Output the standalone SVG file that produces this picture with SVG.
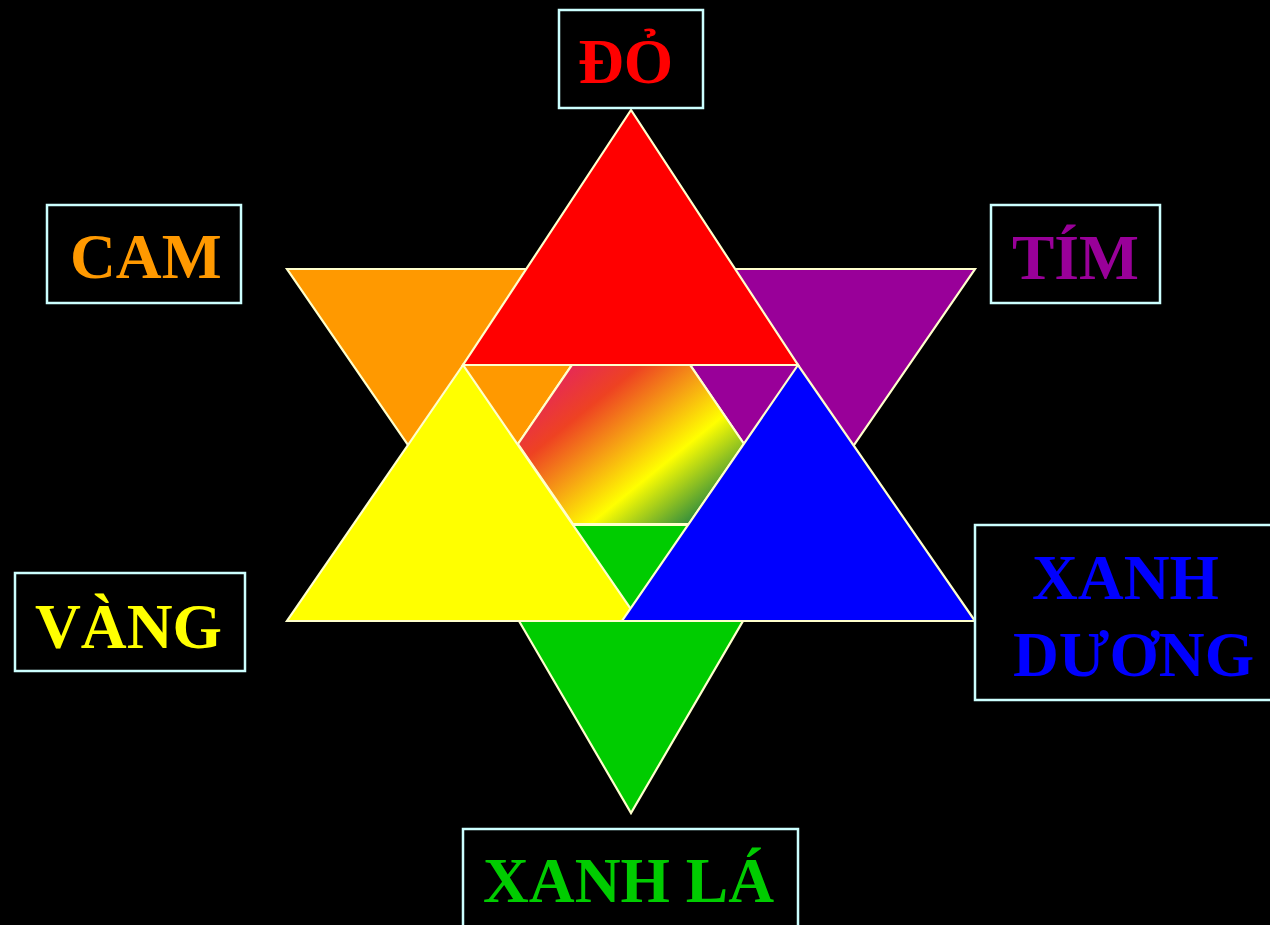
<svg xmlns="http://www.w3.org/2000/svg" width="1270" height="925" viewBox="0 0 1270 925">
<defs>
<linearGradient id="rainbow" gradientUnits="userSpaceOnUse" x1="572" y1="365" x2="697" y2="519">
<stop offset="0" stop-color="#e62a55"/>
<stop offset="0.22" stop-color="#ee4222"/>
<stop offset="0.45" stop-color="#f6a014"/>
<stop offset="0.68" stop-color="#ffff00"/>
<stop offset="1" stop-color="#2e8b3e"/>
</linearGradient>
</defs>
<style>
.tri{stroke:#ffffcc;stroke-width:2.2;stroke-linejoin:miter}
.box{fill:#000;stroke:#ccffff;stroke-width:2.5}
.lbl{font-family:"Liberation Serif","Times New Roman",serif;font-weight:bold;font-size:63.5px}
</style>
<rect x="0" y="0" width="1270" height="925" fill="#000"/>
<g id="star">
<polygon id="orange" class="tri" fill="#ff9900" points="287,269 637,269 463,525"/>
<polygon id="purple" class="tri" fill="#990099" points="625,269 975,269 799,525"/>
<polygon id="green" class="tri" fill="#00cc00" points="463,525 799,525 631,813"/>
<polygon id="center" class="tri" fill="url(#rainbow)" points="572,365 690,365 744,444 689,524 573,524 518,444"/>
<polygon id="red" class="tri" fill="#ff0000" points="631,110 463,365 798,365"/>
<polygon id="yellow" class="tri" fill="#ffff00" points="463,365 287,621 639,621"/>
<polygon id="blue" class="tri" fill="#0000ff" points="798,365 622,621 975,621"/>
</g>
<g id="connectors"></g>
<g id="label-do">
<rect class="box" x="559" y="10" width="144" height="98"/>
<text class="lbl" x="578" y="83" fill="#ff0000">ĐỎ</text>
</g>
<g id="label-cam">
<rect class="box" x="47" y="205" width="194" height="98"/>
<text class="lbl" x="70" y="278" fill="#ff9900">CAM</text>
</g>
<g id="label-tim">
<rect class="box" x="991" y="205" width="169" height="98"/>
<text class="lbl" x="1012" y="279" fill="#990099">TÍM</text>
</g>
<g id="label-vang">
<rect class="box" x="15" y="573" width="230" height="98"/>
<text class="lbl" x="35" y="648" fill="#ffff00">VÀNG</text>
</g>
<g id="label-xanh-duong">
<rect class="box" x="975" y="525" width="310" height="175"/>
<text class="lbl" x="1032" y="599" fill="#0000ff">XANH</text>
<text class="lbl" x="1013" y="676" fill="#0000ff">DƯƠNG</text>
</g>
<g id="label-xanh-la">
<rect class="box" x="463" y="829" width="335" height="110"/>
<text class="lbl" x="483" y="902" fill="#00cc00">XANH LÁ</text>
</g>
</svg>
